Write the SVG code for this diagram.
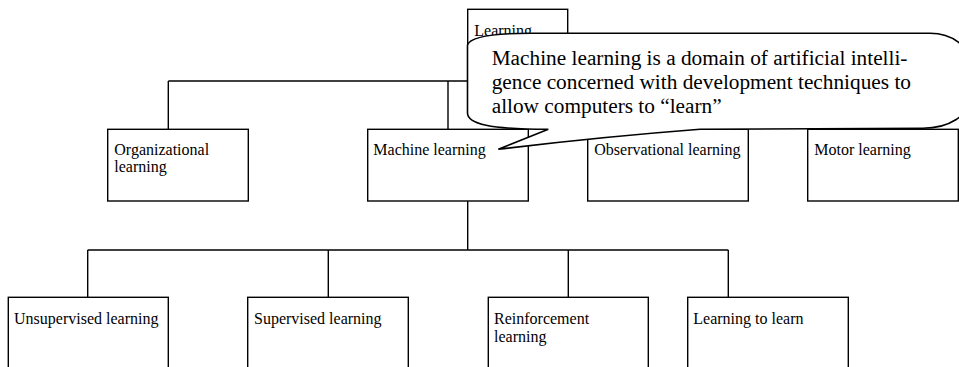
<svg xmlns="http://www.w3.org/2000/svg" width="959" height="367" viewBox="0 0 959 367">
  <style>
    .box { fill: #ffffff; stroke: #000000; stroke-width: 1.4; }
    .wire { fill: none; stroke: #000000; stroke-width: 1.4; }
    .lbl { font-family: "Liberation Serif", "Times New Roman", serif; font-size: 16px; fill: #000000; }
    .note { font-family: "Liberation Serif", "Times New Roman", serif; font-size: 21.3px; fill: #000000; }
    .bubble { fill: #ffffff; stroke: #000000; stroke-width: 1.6; stroke-linejoin: miter; }
  </style>
  <rect width="959" height="367" fill="#ffffff"/>

  <!-- connectors of the tree -->
  <g id="connectors" class="wire">
    <path d="M517.7 69.3 V81"/>
    <path d="M168.3 81 H883"/>
    <path d="M168.3 81 V129.3"/>
    <path d="M448 81 V129.3"/>
    <path d="M668 81 V129.3"/>
    <path d="M883 81 V129.3"/>
    <path d="M467.7 201 V250"/>
    <path d="M87.7 250 H728.3"/>
    <path d="M87.7 250 V297.3"/>
    <path d="M328.3 250 V297.3"/>
    <path d="M568.3 250 V297.3"/>
    <path d="M728.3 250 V297.3"/>
  </g>

  <!-- root -->
  <g id="learning">
    <rect class="box" x="467.7" y="9.3" width="100" height="60"/>
    <text class="lbl" x="474.3" y="35.6">Learning</text>
  </g>

  <!-- first level -->
  <g id="organizational-learning">
    <rect class="box" x="107.7" y="129.3" width="140.6" height="71.7"/>
    <text class="lbl" x="114.3" y="155">Organizational</text>
    <text class="lbl" x="114.3" y="172.3">learning</text>
  </g>
  <g id="machine-learning">
    <rect class="box" x="367.7" y="129.3" width="160.6" height="71.7"/>
    <text class="lbl" x="373.3" y="155">Machine learning</text>
  </g>
  <g id="observational-learning">
    <rect class="box" x="587.7" y="129.3" width="160.6" height="71.7"/>
    <text class="lbl" x="594.3" y="155">Observational learning</text>
  </g>
  <g id="motor-learning">
    <rect class="box" x="807.7" y="129.3" width="150.6" height="71.7"/>
    <text class="lbl" x="814.3" y="155">Motor learning</text>
  </g>

  <!-- second level -->
  <g id="unsupervised-learning">
    <rect class="box" x="8.3" y="297.3" width="160" height="80"/>
    <text class="lbl" x="14" y="324">Unsupervised learning</text>
  </g>
  <g id="supervised-learning">
    <rect class="box" x="247.7" y="297.3" width="160.6" height="80"/>
    <text class="lbl" x="254" y="324">Supervised learning</text>
  </g>
  <g id="reinforcement-learning">
    <rect class="box" x="488.3" y="297.3" width="160" height="80"/>
    <text class="lbl" x="494" y="324">Reinforcement</text>
    <text class="lbl" x="494" y="341.5">learning</text>
  </g>
  <g id="learning-to-learn">
    <rect class="box" x="687.7" y="297.3" width="160.6" height="80"/>
    <text class="lbl" x="693.3" y="324">Learning to learn</text>
  </g>

  <!-- callout pointing at Machine learning -->
  <g id="callout">
    <path class="bubble" d="M530 33.3 L930 33.3 A40 30 0 0 1 970 63.3 L970 98.3 A47 30 0 0 1 923 128.3 L700 129.3 Q600 137 498.3 149.3 L548.3 129.3 C490 129.3 467.5 124 467.5 113 L467.5 45 C470 37 490 33.3 530 33.3 Z"/>
    <text class="note" x="491.7" y="65">Machine learning is a domain of artificial intelli-</text>
    <text class="note" x="491.7" y="89">gence concerned with development techniques to</text>
    <text class="note" x="491.7" y="113.3">allow computers to “learn”</text>
  </g>
</svg>
